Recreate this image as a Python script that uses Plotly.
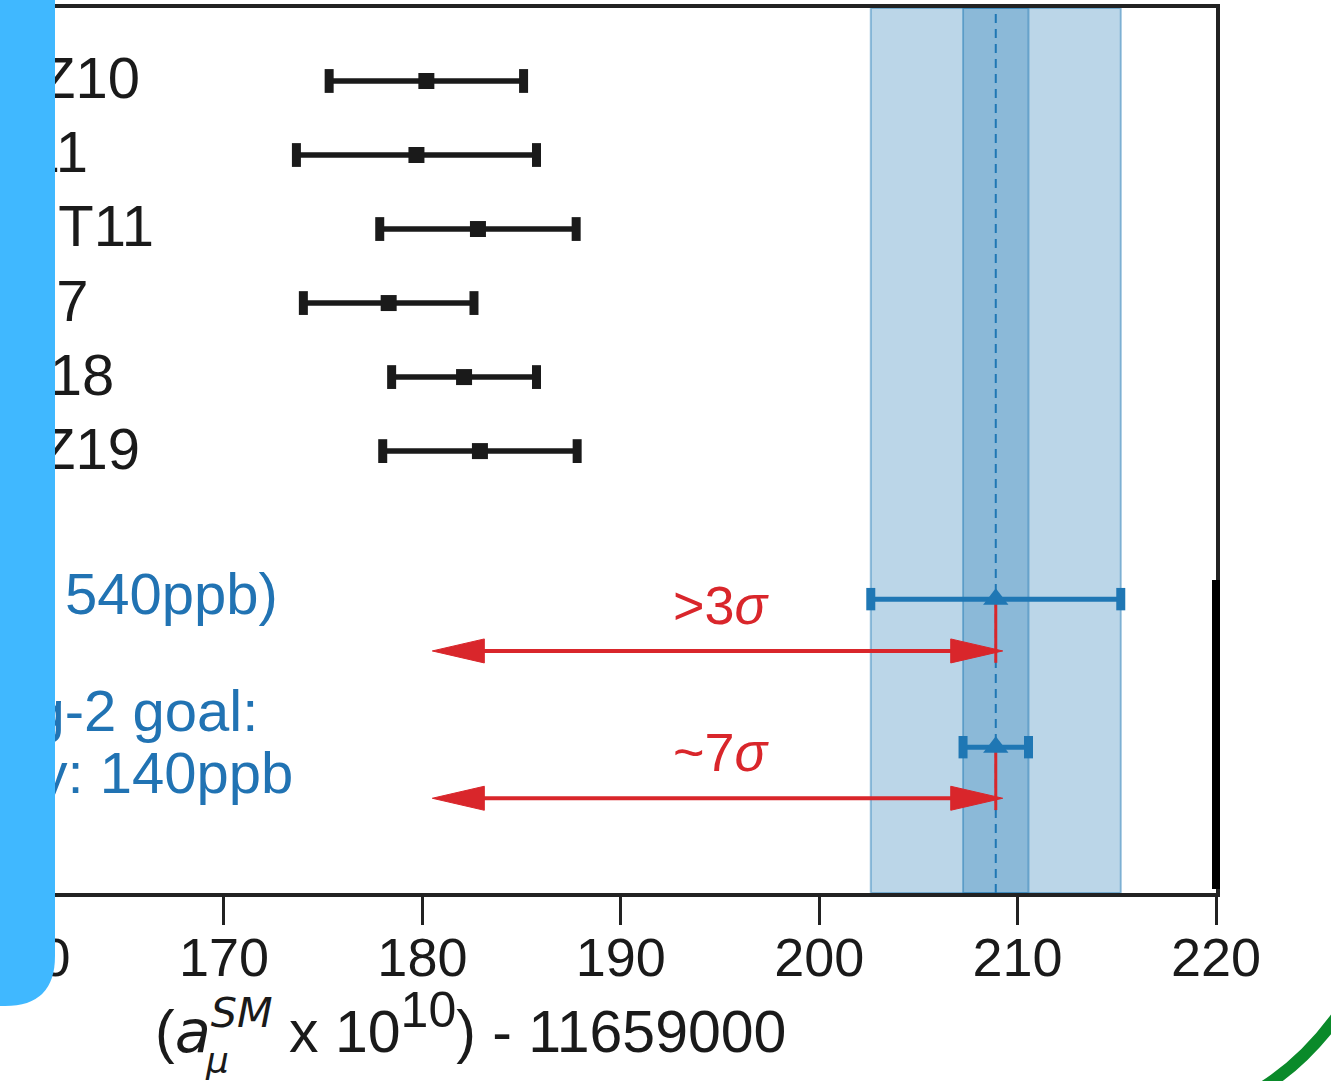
import plotly.graph_objects as go
import numpy as np

# ---------------- data ----------------
theory_labels = ["DHMZ10", "JS11", "HLMNT11", "FJ17", "KNT18", "DHMZ19"]
theory_values = [180.2, 179.7, 182.8, 178.3, 182.1, 182.9]
theory_errors = [4.9, 6.05, 4.95, 4.3, 3.65, 4.9]
theory_rows = [0, 1, 2, 3, 4, 5]

exp_labels = ["BNL (σ: 540ppb)", "FNAL g-2 goal:<br>accuracy: 140ppb"]
exp_values = [208.9, 208.9]
exp_errors = [6.3, 1.65]
exp_rows = [7, 9]

sigma_labels = [">3<i>σ</i>", "~7<i>σ</i>"]
arrow_rows = [7.70, 9.69]
arrow_from = 180.5
arrow_to = 209.25
sigma_x = 195.0

x_ticks = [160, 170, 180, 190, 200, 210, 220]
x_range = [158.71, 220.0]
y_range = [10.97, -0.986]

# ---------------- style ----------------
FONT = "Liberation Sans, Arial, sans-serif"
BLACK = "#1a1a1a"
BLUE = "#1f77b4"
BLUE_TXT = "#2173b3"
RED = "#d9262b"
LABEL_X = 159.92
BLUE_LABEL_X = 161.95
LINE_GAP = 0.84      # rows between lines of a two-line label
TEXT_DY = 0.04       # small vertical nudge for row labels

W, H = 1331, 1081
ML, MR, MT, MB = 0, 115, 8, 188
PW, PH = W - ML - MR, H - MT - MB


def px2paper(x, y):
    return (x - ML) / PW, (H - MB - y) / PH


fig = go.Figure()

tv = np.array(theory_values)
te = np.array(theory_errors)
ev = np.array(exp_values)
ee = np.array(exp_errors)

# theory points with error bars
fig.add_trace(go.Scatter(
    x=tv, y=theory_rows, mode="markers",
    marker=dict(symbol="square", size=16, color=BLACK),
    error_x=dict(type="data", array=te, thickness=5.5, width=0, color=BLACK),
    showlegend=False, hoverinfo="skip"))
fig.add_trace(go.Scatter(
    x=np.concatenate([tv - te, tv + te]), y=theory_rows + theory_rows,
    mode="markers",
    marker=dict(symbol="line-ns", size=17, line=dict(width=9, color=BLACK)),
    showlegend=False, hoverinfo="skip"))

# red connectors from experimental point down to arrow
cx, cy = [], []
for v, r, ar in zip(exp_values, exp_rows, arrow_rows):
    cx += [v, v, None]
    cy += [r, ar + 0.16, None]
fig.add_trace(go.Scatter(x=cx, y=cy, mode="lines",
                         line=dict(color=RED, width=3),
                         showlegend=False, hoverinfo="skip"))

# red arrows (shafts)
ax_, ay_ = [], []
for r in arrow_rows:
    ax_ += [arrow_from + 1.5, arrow_to - 1.5, None]
    ay_ += [r, r, None]
fig.add_trace(go.Scatter(x=ax_, y=ay_, mode="lines",
                         line=dict(color=RED, width=4),
                         showlegend=False, hoverinfo="skip"))

# experimental points
fig.add_trace(go.Scatter(
    x=ev, y=exp_rows, mode="markers",
    marker=dict(symbol="triangle-up", size=22, color=BLUE),
    error_x=dict(type="data", array=ee, thickness=5, width=0, color=BLUE),
    showlegend=False, hoverinfo="skip"))
fig.add_trace(go.Scatter(
    x=np.concatenate([ev - ee, ev + ee]), y=exp_rows + exp_rows,
    mode="markers",
    marker=dict(symbol="line-ns", size=16, line=dict(width=9, color=BLUE)),
    showlegend=False, hoverinfo="skip"))

# labels
fig.add_trace(go.Scatter(
    x=[LABEL_X] * len(theory_labels), y=[r + TEXT_DY for r in theory_rows],
    mode="text", text=theory_labels, textposition="middle center",
    textfont=dict(family=FONT, size=58, color=BLACK),
    showlegend=False, hoverinfo="skip"))

bl_text, bl_y = [], []
for lab, r in zip(exp_labels, exp_rows):
    lines = lab.split("<br>")
    n = len(lines)
    for i, ln in enumerate(lines):
        bl_text.append(ln)
        bl_y.append(r + (i - (n - 1) / 2) * LINE_GAP)
fig.add_trace(go.Scatter(
    x=[BLUE_LABEL_X] * len(bl_text), y=bl_y, mode="text",
    text=bl_text, textposition="middle center",
    textfont=dict(family=FONT, size=58, color=BLUE_TXT),
    showlegend=False, hoverinfo="skip"))
fig.add_trace(go.Scatter(
    x=[sigma_x] * len(sigma_labels), y=[r - 0.55 for r in arrow_rows],
    mode="text", text=sigma_labels, textposition="middle center",
    textfont=dict(family=FONT, size=54, color=RED),
    showlegend=False, hoverinfo="skip"))

shapes = []
# bands
for v, e in zip(exp_values, exp_errors):
    shapes.append(dict(type="rect", xref="x", yref="paper",
                       x0=v - e, x1=v + e, y0=0, y1=1,
                       fillcolor="rgba(31,119,180,0.30)",
                       line=dict(color="rgba(31,119,180,0.45)", width=2),
                       layer="below"))
# dashed central line
shapes.append(dict(type="line", xref="x", yref="paper",
                   x0=exp_values[0], x1=exp_values[0], y0=0, y1=1,
                   line=dict(color=BLUE, width=2, dash="9px,6px"),
                   layer="below"))
# arrow heads
for r in arrow_rows:
    shapes.append(dict(type="path", xref="x", yref="y",
                       xsizemode="pixel", ysizemode="pixel",
                       xanchor=arrow_to, yanchor=r,
                       path="M0,0 L-52,12 L-52,-12 Z",
                       fillcolor=RED, line=dict(color=RED, width=1)))
    shapes.append(dict(type="path", xref="x", yref="y",
                       xsizemode="pixel", ysizemode="pixel",
                       xanchor=arrow_from, yanchor=r,
                       path="M0,0 L52,12 L52,-12 Z",
                       fillcolor=RED, line=dict(color=RED, width=1)))
# thick lower-right frame segment
x1p, y1p = px2paper(1216, 580)
x2p, y2p = px2paper(1216, 889)
shapes.append(dict(type="line", xref="paper", yref="paper",
                   x0=1, x1=1, y0=y1p, y1=y2p,
                   line=dict(color="black", width=8)))
# blue side panel with rounded corner
ax0, ay0 = px2paper(-10, -10)
ax1, _ = px2paper(55, 0)
_, ayc = px2paper(0, 956)
_, ayb = px2paper(0, 1006)
axc, _ = px2paper(5, 0)
shapes.append(dict(type="path", xref="paper", yref="paper",
                   path=f"M{ax0},{ay0} L{ax1},{ay0} L{ax1},{ayc} "
                        f"Q{ax1},{ayb} {axc},{ayb} L{ax0},{ayb} Z",
                   fillcolor="#40b8ff", line=dict(width=0), layer="above"))
# green arc
g0 = px2paper(1250, 1095)
gc = px2paper(1305, 1065)
g2 = px2paper(1345, 1005)
shapes.append(dict(type="path", xref="paper", yref="paper",
                   path=f"M{g0[0]},{g0[1]} Q{gc[0]},{gc[1]} {g2[0]},{g2[1]}",
                   line=dict(color="#0a8a2a", width=12), layer="above"))

# axis title (annotation) + stacked subscript
tx, ty = px2paper(470, 1024)
mx, my = px2paper(217, 1060)
annotations = [
    dict(xref="paper", yref="paper", x=tx, y=ty, showarrow=False,
         xanchor="center", yanchor="middle",
         text="(<span style='font-family:DejaVu Sans'><i>a</i></span>"
              "<sup><span style='font-family:DejaVu Sans'><i>SM</i></span></sup>"
              " x 10<sup><span style='font-size:50px'>10</span></sup>) - 11659000",
         font=dict(family=FONT, size=59, color=BLACK)),
    dict(xref="paper", yref="paper", x=mx, y=my, showarrow=False,
         xanchor="center", yanchor="middle",
         text="<i>μ</i>",
         font=dict(family="DejaVu Sans", size=36, color=BLACK)),
]

fig.update_layout(
    width=W, height=H,
    margin=dict(l=ML, r=MR, t=MT, b=MB, pad=0, autoexpand=False),
    paper_bgcolor="white", plot_bgcolor="white",
    shapes=shapes, annotations=annotations,
    xaxis=dict(range=x_range, tickvals=x_ticks, ticktext=[str(t) for t in x_ticks],
               automargin=False,
               showline=True, mirror=True, linewidth=4, linecolor="#222",
               ticks="outside", ticklen=28, tickwidth=3, tickcolor="#222",
               ticklabelstandoff=-14, ticklabeloverflow="allow",
               tickfont=dict(family=FONT, size=54, color=BLACK),
               showgrid=False, zeroline=False, fixedrange=True),
    yaxis=dict(range=y_range, showticklabels=False, ticks="", automargin=False,
               showline=True, mirror=True, linewidth=4, linecolor="#222",
               showgrid=False, zeroline=False, fixedrange=True),
)

fig.write_html("out.html", config={"displayModeBar": False},
               post_script="document.body.style.margin='0';")
